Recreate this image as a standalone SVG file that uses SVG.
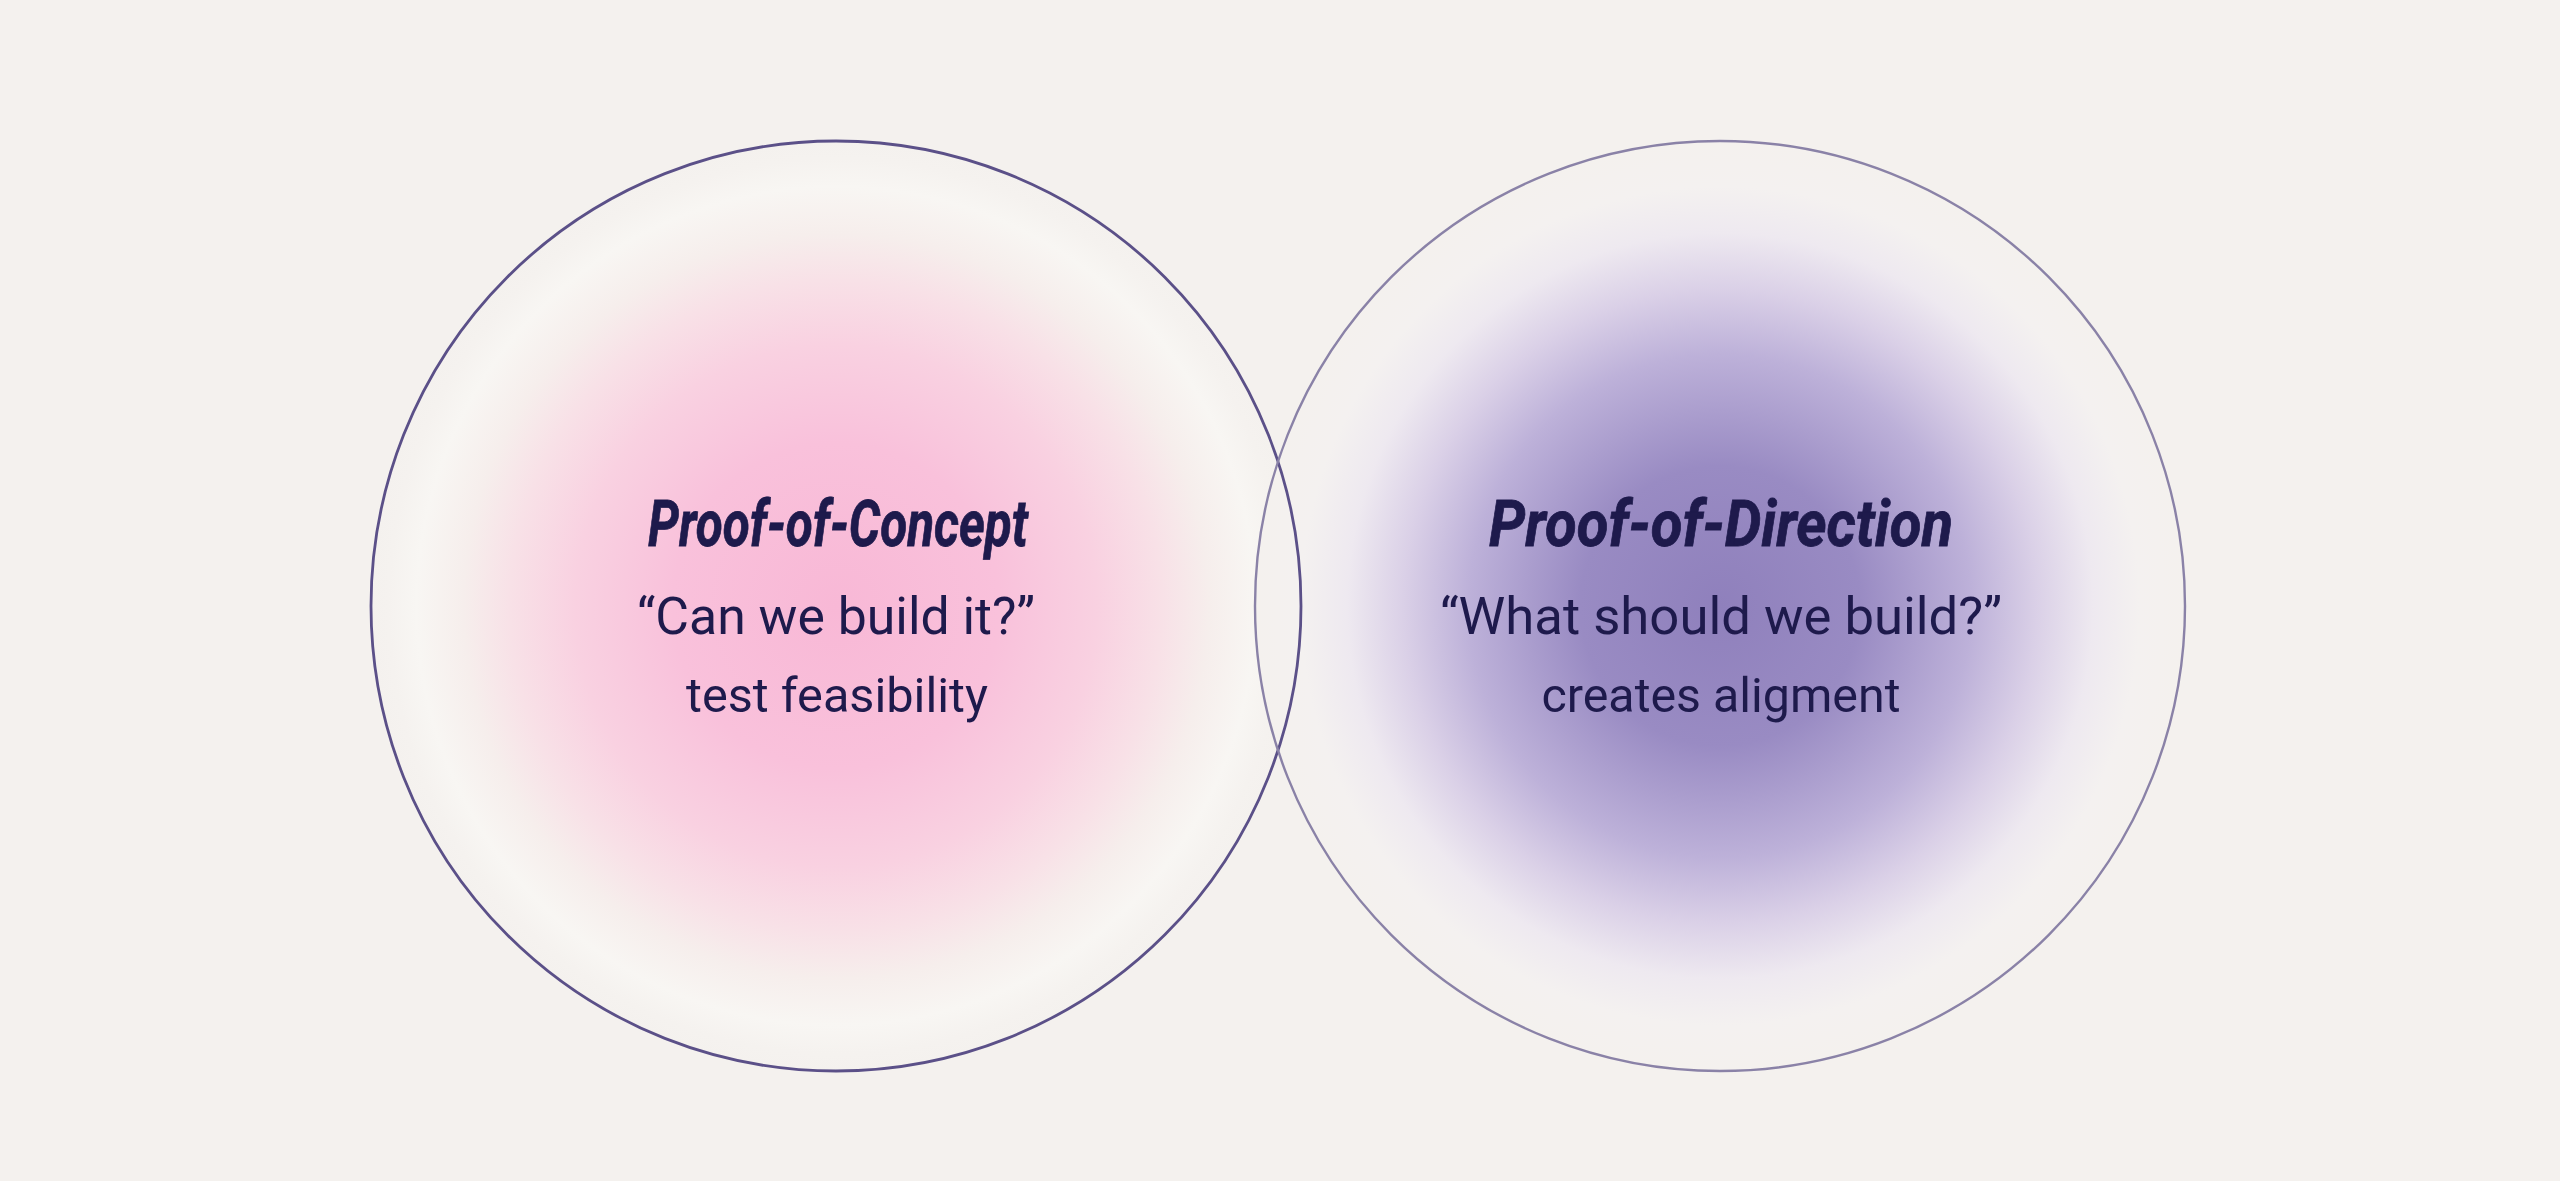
<svg xmlns="http://www.w3.org/2000/svg" width="2560" height="1181" viewBox="0 0 2560 1181">
  <defs>
    <radialGradient id="gPink" gradientUnits="userSpaceOnUse" cx="836" cy="606" r="466">
      <stop offset="0" stop-color="#f8b8d6"/>
      <stop offset="0.35" stop-color="#f9c1db"/>
      <stop offset="0.56" stop-color="#f9d1e1"/>
      <stop offset="0.7" stop-color="#f8e1e7"/>
      <stop offset="0.8" stop-color="#f6eeec"/>
      <stop offset="0.9" stop-color="#f8f6f3"/>
      <stop offset="0.96" stop-color="#f5f2ef"/>
      <stop offset="1" stop-color="#f4f1ee"/>
    </radialGradient>
    <radialGradient id="gPurple" gradientUnits="userSpaceOnUse" cx="1720" cy="606" r="466">
      <stop offset="0" stop-color="#8f80bc"/>
      <stop offset="0.3" stop-color="#998bc3"/>
      <stop offset="0.54" stop-color="#bdb1d9"/>
      <stop offset="0.68" stop-color="#dad0e7"/>
      <stop offset="0.8" stop-color="#eee9f0"/>
      <stop offset="0.9" stop-color="#f4f1f0"/>
      <stop offset="1" stop-color="#f4f1ee"/>
    </radialGradient>
  </defs>
  <style>
    .title { font-family: Roboto, "Liberation Sans", sans-serif; font-weight: 700; font-style: italic; font-size: 64px; fill: #1e1a4c; stroke: #1e1a4c; stroke-width: 0.8px; }
    .sub { font-family: Roboto, "Liberation Sans", sans-serif; font-weight: 400; font-size: 52px; fill: #1e1a4c; }
    .desc { font-family: Roboto, "Liberation Sans", sans-serif; font-weight: 400; font-size: 48px; fill: #1e1a4c; }
    .ring { fill: none; }
  </style>
  <rect x="0" y="0" width="2560" height="1181" fill="#f4f1ee"/>
  <g id="fills">
    <circle cx="836" cy="606" r="465" fill="url(#gPink)"/>
    <circle cx="1720" cy="606" r="465" fill="url(#gPurple)"/>
  </g>
  <g id="node-poc">
    <circle class="ring" cx="836" cy="606" r="465" stroke="#5b5088" stroke-width="2.8"/>
    <text class="title" x="838" y="546" text-anchor="middle" textLength="380" lengthAdjust="spacingAndGlyphs">Proof-of-Concept</text>
    <text class="sub" x="836" y="634" text-anchor="middle" textLength="398" lengthAdjust="spacingAndGlyphs">“Can we build it?”</text>
    <text class="desc" x="837" y="712" text-anchor="middle" textLength="302" lengthAdjust="spacingAndGlyphs">test feasibility</text>
  </g>
  <g id="node-pod">
    <circle class="ring" cx="1720" cy="606" r="465" stroke="#8a82a7" stroke-width="2.4"/>
    <text class="title" x="1721" y="546" text-anchor="middle" textLength="464" lengthAdjust="spacingAndGlyphs">Proof-of-Direction</text>
    <text class="sub" x="1721" y="634" text-anchor="middle" textLength="562" lengthAdjust="spacingAndGlyphs">“What should we build?”</text>
    <text class="desc" x="1721" y="712" text-anchor="middle" textLength="359" lengthAdjust="spacingAndGlyphs">creates aligment</text>
  </g>
  <g id="connectors"/>
</svg>
